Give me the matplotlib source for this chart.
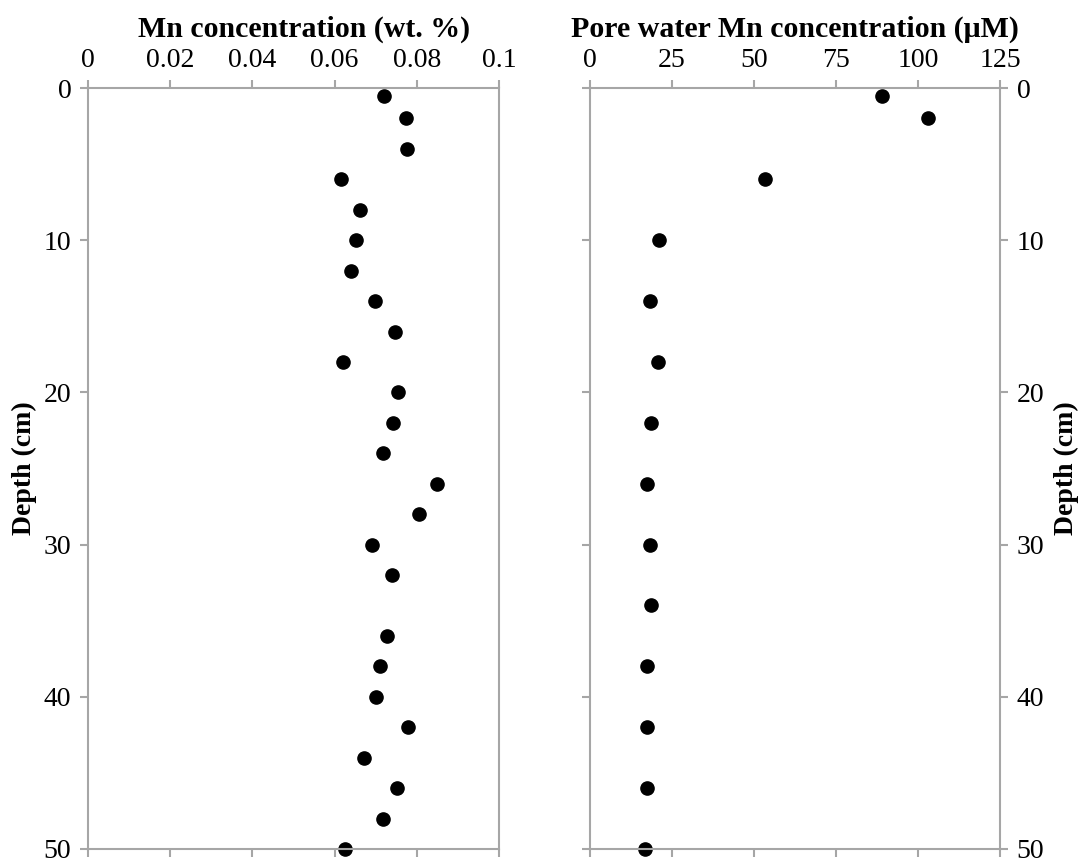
import numpy as np
import matplotlib.pyplot as plt

plt.rcParams['font.family'] = ['Liberation Serif', 'DejaVu Serif']

# solid-phase Mn profile
depth_solid = [0.5, 2, 4, 6, 8, 10, 12, 14, 16, 18, 20, 22, 24, 26, 28, 30, 32,
               36, 38, 40, 42, 44, 46, 48, 50]
mn_solid = [0.0720, 0.0773, 0.0775, 0.0616, 0.0662, 0.0651, 0.0641, 0.0699,
            0.0747, 0.0621, 0.0754, 0.0742, 0.0718, 0.0849, 0.0806, 0.0690,
            0.0739, 0.0727, 0.0711, 0.0701, 0.0779, 0.0672, 0.0752, 0.0718,
            0.0625]

# pore water Mn profile
depth_pw = [0.5, 2, 6, 10, 14, 18, 22, 26, 30, 34, 38, 42, 46, 50]
mn_pw = [89.0, 103.0, 53.5, 20.9, 18.4, 20.7, 18.7, 17.5, 18.3, 18.5, 17.3,
         17.3, 17.4, 16.9]

depth_ticks = [0, 10, 20, 30, 40, 50]
solid_ticks = [0, 0.02, 0.04, 0.06, 0.08, 0.1]
solid_ticklabels = ['0', '0.02', '0.04', '0.06', '0.08', '0.1']
pw_ticks = [0, 25, 50, 75, 100, 125]

spine_col = '#a6a6a6'
fs = 20
fs_lab = 21.5

fig = plt.figure(figsize=(10.86, 8.61), dpi=100)
ax1 = fig.add_axes([88 / 1086, 1 - 849 / 861, 411 / 1086, 761 / 861])
ax2 = fig.add_axes([590 / 1086, 1 - 849 / 861, 410 / 1086, 761 / 861])


def style(ax):
    for s in ax.spines.values():
        s.set_color(spine_col)
        s.set_linewidth(1.5)
    ax.tick_params(axis='both', direction='out', length=6, width=1.5,
                   color=spine_col, labelsize=fs, labelcolor='black', pad=6)
    ax.xaxis.set_label_position('top')
    ax.tick_params(axis='x', top=True, bottom=True, labeltop=True,
                   labelbottom=False, pad=5)
    ax.set_ylim(50, 0)
    ax.set_yticks(depth_ticks)


ax1.plot(mn_solid, depth_solid, 'o', color='black', ms=9.5, clip_on=False)
style(ax1)
ax1.set_xlim(0, 0.1)
ax1.set_xticks(solid_ticks)
ax1.set_xticklabels(solid_ticklabels)
ax1.set_xlabel('Mn concentration (wt. %)', fontsize=fs_lab, fontweight='bold',
               labelpad=8)
ax1.xaxis.label.set_x(0.526)
ax1.set_ylabel('Depth (cm)', fontsize=fs, fontweight='bold', labelpad=5)
ax1.tick_params(axis='y', left=True, right=False)

ax2.plot(mn_pw, depth_pw, 'o', color='black', ms=9.5, clip_on=False)
style(ax2)
ax2.set_xlim(0, 125)
ax2.set_xticks(pw_ticks)
ax2.set_xlabel('Pore water Mn concentration (μM)', fontsize=fs_lab,
               fontweight='bold', labelpad=8)
ax2.yaxis.set_label_position('right')
ax2.tick_params(axis='y', left=True, right=True, labelleft=False,
                labelright=True)
ax2.set_ylabel('Depth (cm)', fontsize=fs, fontweight='bold', labelpad=7,
               rotation=90)

plt.savefig('out.png', dpi=100)
